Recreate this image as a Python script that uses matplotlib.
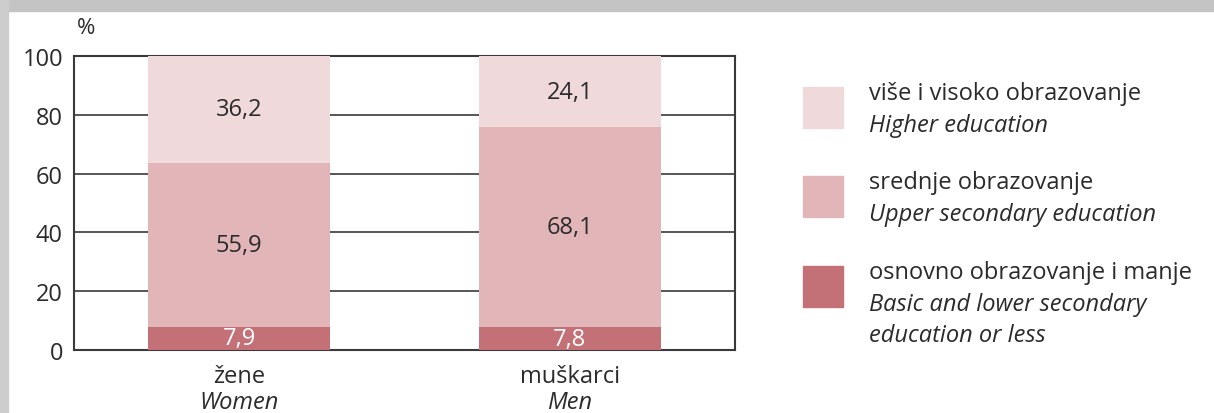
import numpy as np
import matplotlib.pyplot as plt
from matplotlib.patches import Rectangle
from matplotlib.transforms import blended_transform_factory

plt.rcParams['font.family'] = ['Open Sans', 'DejaVu Sans']

# data
groups = ['žene', 'muškarci']
groups_en = ['Women', 'Men']
basic = [7.9, 7.8]
upper_sec = [55.9, 68.1]
higher = [36.2, 24.1]

series_hr = ['više i visoko obrazovanje', 'srednje obrazovanje', 'osnovno obrazovanje i manje']
series_en = [['Higher education'], ['Upper secondary education'],
             ['Basic and lower secondary', 'education or less']]
colors = ['#EFD9DA', '#E2B6B8', '#C37177']
txt = '#2b2b2b'

fig = plt.figure(figsize=(12.14, 4.14), dpi=100)

# grey frame (shadow) along the top and left edge
fig.patches.append(Rectangle((0, 0.97), 1, 0.03, transform=fig.transFigure,
                             color='#C4C4C4', zorder=-5))
fig.patches.append(Rectangle((0, 0), 0.007, 1, transform=fig.transFigure,
                             color='#CDCDCD', zorder=-5))

ax = fig.add_axes([0.061, 0.152, 0.5445, 0.71])
x = np.arange(len(groups))
w = 0.55

b1 = ax.bar(x, basic, w, color=colors[2], zorder=3)
b2 = ax.bar(x, upper_sec, w, bottom=basic, color=colors[1], zorder=3)
bottom2 = np.array(basic) + np.array(upper_sec)
b3 = ax.bar(x, higher, w, bottom=bottom2, color=colors[0], zorder=3)

fmt = lambda v: f'{v:.1f}'.replace('.', ',')
ax.bar_label(b1, labels=[fmt(v) for v in basic], label_type='center',
             color='white', fontsize=17, zorder=4)
ax.bar_label(b2, labels=[fmt(v) for v in upper_sec], label_type='center',
             color=txt, fontsize=17, zorder=4)
ax.bar_label(b3, labels=[fmt(v) for v in higher], label_type='center',
             color=txt, fontsize=17, zorder=4)

ax.set_xlim(-0.5, 1.5)
ax.set_ylim(0, 100)
ax.set_yticks([0, 20, 40, 60, 80, 100])
ax.tick_params(axis='y', length=0, labelsize=17, pad=8, labelcolor=txt)
ax.set_xticks([])
ax.grid(axis='y', color='#3a3a3a', linewidth=1.2, zorder=1)
for s in ax.spines.values():
    s.set_color('#3a3a3a')
    s.set_linewidth(1.5)

tr = blended_transform_factory(ax.transData, ax.transAxes)
for i in range(len(groups)):
    ax.text(x[i], -0.11, groups[i], transform=tr, ha='center', va='baseline',
            fontsize=17, color=txt)
    ax.text(x[i], -0.197, groups_en[i], transform=tr, ha='center', va='baseline',
            fontsize=17, style='italic', color=txt)

ax.text(0.004, 1.06, '%', transform=ax.transAxes, fontsize=16, color=txt,
        va='bottom', ha='left')

# legend drawn by hand
leg_y = [0.739, 0.524, 0.306]
step = 31.5 / 414
for i in range(3):
    fig.patches.append(Rectangle((0.6615, leg_y[i] - 0.0495), 0.033, 0.099,
                                 transform=fig.transFigure, color=colors[i]))
    base = leg_y[i] + 8 / 414
    fig.text(0.716, base, series_hr[i], fontsize=17, color=txt, va='baseline')
    for j, line in enumerate(series_en[i]):
        fig.text(0.716, base - (j + 1) * step, line, fontsize=17, color=txt,
                 va='baseline', style='italic')

fig.savefig('out.png', dpi=100)
